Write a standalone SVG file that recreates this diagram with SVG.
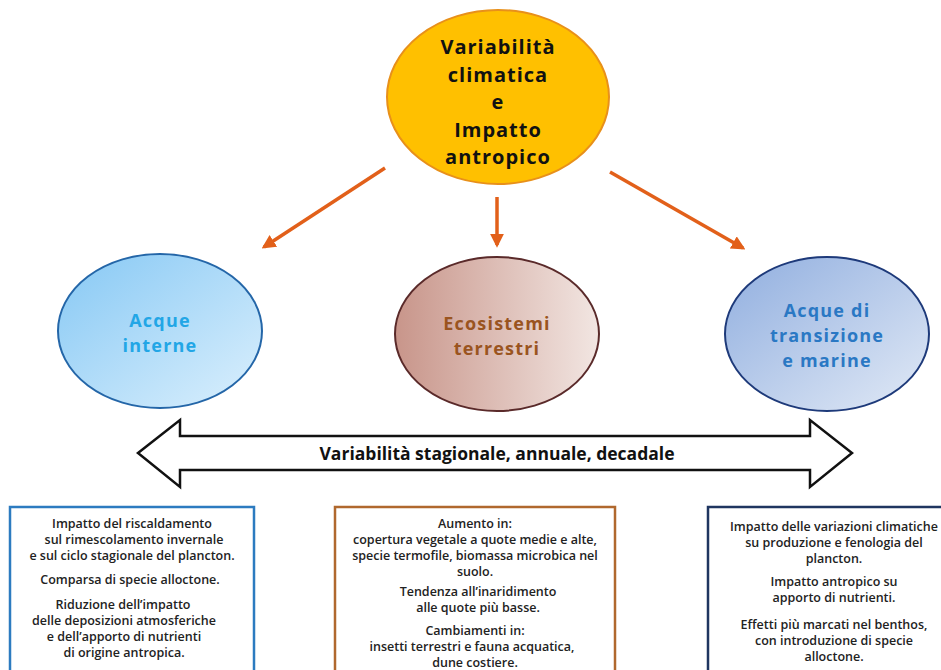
<svg xmlns="http://www.w3.org/2000/svg" width="941" height="670" viewBox="0 0 941 670">
<style>
.t{font-family:"Open Sans","Liberation Sans",sans-serif;font-weight:bold;text-anchor:middle}
.top{font-size:20px;letter-spacing:1px;fill:#111}
.big{font-size:18px;letter-spacing:1.2px}
.box{font-size:12.5px;fill:#222;font-weight:600}
.conn{stroke:#E2601A;stroke-width:3.5;fill:none}
</style>
<defs>
<marker id="ah" viewBox="0 0 10 10" refX="8" refY="5" markerWidth="4" markerHeight="4" orient="auto" markerUnits="strokeWidth">
<path d="M0,0 L10,5 L0,10 Z" fill="#E2601A"/>
</marker>
<linearGradient id="gL" x1="0" y1="0" x2="1" y2="1">
<stop offset="0" stop-color="#86C8F4"/><stop offset="1" stop-color="#DCF0FD"/>
</linearGradient>
<linearGradient id="gM" x1="0" y1="0" x2="1" y2="0">
<stop offset="0" stop-color="#C8958A"/><stop offset="1" stop-color="#F2E6E2"/>
</linearGradient>
<linearGradient id="gR" x1="0" y1="0" x2="1" y2="1">
<stop offset="0" stop-color="#90AEDF"/><stop offset="1" stop-color="#E2EAF6"/>
</linearGradient>
</defs>
<rect width="941" height="670" fill="#fff"/>

<g id="connectors">
<line class="conn" x1="385" y1="168" x2="264" y2="247" marker-end="url(#ah)"/>
<line class="conn" x1="497" y1="197" x2="497" y2="245" marker-end="url(#ah)"/>
<line class="conn" x1="610" y1="172" x2="743" y2="248" marker-end="url(#ah)"/>
</g>

<g id="top">
<ellipse cx="498" cy="97" rx="111" ry="87" fill="#FFC000" stroke="#E8901A" stroke-width="2"/>
<text class="t top" x="498" y="54">Variabilità</text>
<text class="t top" x="498" y="81.5">climatica</text>
<text class="t top" x="498" y="109">e</text>
<text class="t top" x="498" y="136.5">Impatto</text>
<text class="t top" x="498" y="164">antropico</text>
</g>

<g id="acque-interne">
<ellipse cx="160" cy="331" rx="102" ry="77" fill="url(#gL)" stroke="#2466A8" stroke-width="2"/>
<text class="t big" x="160" y="327" fill="#22A6E6">Acque</text>
<text class="t big" x="160" y="352" fill="#22A6E6">interne</text>
</g>

<g id="ecosistemi">
<ellipse cx="497" cy="334" rx="102" ry="77" fill="url(#gM)" stroke="#5A2A2A" stroke-width="2"/>
<text class="t big" x="497" y="330" fill="#9A5420">Ecosistemi</text>
<text class="t big" x="497" y="355" fill="#9A5420">terrestri</text>
</g>

<g id="acque-marine">
<ellipse cx="827" cy="334" rx="102" ry="77" fill="url(#gR)" stroke="#1E3A7A" stroke-width="2"/>
<text class="t big" x="827" y="317" fill="#2A78C4">Acque di</text>
<text class="t big" x="827" y="342" fill="#2A78C4">transizione</text>
<text class="t big" x="827" y="367" fill="#2A78C4">e marine</text>
</g>

<g id="double-arrow">
<path d="M138,453 L180,420 L180,436 L810,436 L810,420 L852,453 L810,487 L810,470 L180,470 L180,487 Z" fill="#fff" stroke="#111" stroke-width="2.5" stroke-linejoin="miter"/>
<text class="t" x="497" y="460" font-size="17.5" fill="#111">Variabilità stagionale, annuale, decadale</text>
</g>

<g id="box-left">
<rect x="10" y="507" width="244" height="175" fill="#fff" stroke="#2C7BC0" stroke-width="2.5"/>
<text class="t box" x="132" y="528">Impatto del riscaldamento</text>
<text class="t box" x="134" y="544">sul rimescolamento invernale</text>
<text class="t box" x="132" y="560">e sul ciclo stagionale del plancton.</text>
<text class="t box" x="130" y="584">Comparsa di specie alloctone.</text>
<text class="t box" x="123" y="609">Riduzione dell’impatto</text>
<text class="t box" x="124" y="625">delle deposizioni atmosferiche</text>
<text class="t box" x="124" y="641">e dell’apporto di nutrienti</text>
<text class="t box" x="124" y="657">di origine antropica.</text>
</g>

<g id="box-middle">
<rect x="335" y="507" width="280" height="175" fill="#fff" stroke="#B0682E" stroke-width="2.5"/>
<text class="t box" x="475" y="528">Aumento in:</text>
<text class="t box" x="475" y="544">copertura vegetale a quote medie e alte,</text>
<text class="t box" x="475" y="560">specie termofile, biomassa microbica nel</text>
<text class="t box" x="475" y="576">suolo.</text>
<text class="t box" x="478" y="596">Tendenza all’inaridimento</text>
<text class="t box" x="478" y="612">alle quote più basse.</text>
<text class="t box" x="475" y="635">Cambiamenti in:</text>
<text class="t box" x="472" y="651">insetti terrestri e fauna acquatica,</text>
<text class="t box" x="475" y="667">dune costiere.</text>
</g>

<g id="box-right">
<rect x="708" y="507" width="250" height="175" fill="#fff" stroke="#1F3560" stroke-width="2.5"/>
<text class="t box" x="834" y="531">Impatto delle variazioni climatiche</text>
<text class="t box" x="834" y="547">su produzione e fenologia del</text>
<text class="t box" x="834" y="563">plancton.</text>
<text class="t box" x="834" y="586">Impatto antropico su</text>
<text class="t box" x="834" y="602">apporto di nutrienti.</text>
<text class="t box" x="834" y="629">Effetti più marcati nel benthos,</text>
<text class="t box" x="834" y="645">con introduzione di specie</text>
<text class="t box" x="834" y="661">alloctone.</text>
</g>
</svg>
